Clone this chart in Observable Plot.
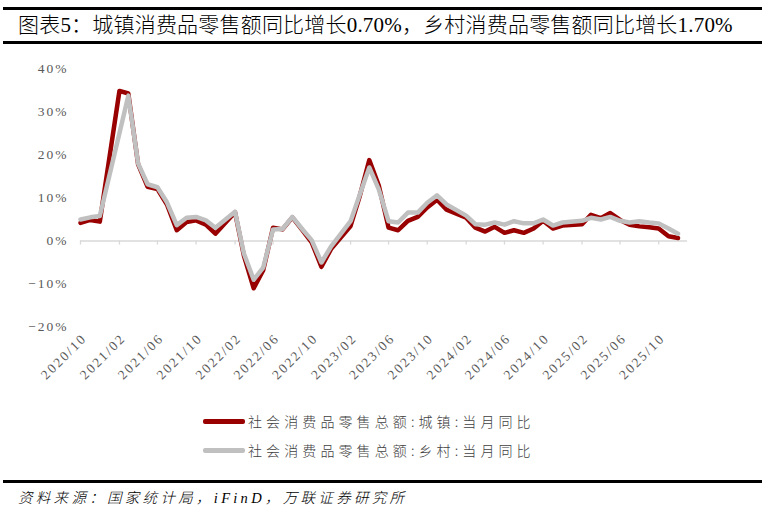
<!DOCTYPE html>
<html><head><meta charset="utf-8">
<script src="https://cdn.jsdelivr.net/npm/d3@7"></script>
<script src="https://cdn.jsdelivr.net/npm/@observablehq/plot@0.6"></script>
<style>
html,body{margin:0;padding:0;background:#fff;}
body{width:765px;height:512px;position:relative;overflow:hidden;font-family:"Liberation Serif","Noto Sans CJK SC",serif;}
#title{position:absolute;left:3px;top:7px;width:759px;height:31px;border-top:3px solid #000;border-bottom:3px solid #000;}
#title span{position:absolute;left:15px;top:2px;font-size:21px;line-height:27px;color:#000;white-space:nowrap;letter-spacing:0.2px;font-weight:300;}
#chart{position:absolute;left:0;top:48px;}
#chart svg text{letter-spacing:2px;}
#legend{position:absolute;left:203px;top:408px;}
.row{position:relative;height:29px;white-space:nowrap;}
.sw{position:absolute;left:0;top:11px;width:42px;height:4.5px;border-radius:2px;}
.lt{position:absolute;left:45px;top:1px;font-family:"Noto Sans CJK SC",sans-serif;font-weight:300;font-size:14px;line-height:24px;letter-spacing:4.1px;color:#404040;}
#rule{position:absolute;left:3px;top:480px;width:759px;height:3px;background:#000;}
#caption{position:absolute;left:18px;top:487px;font-family:"Liberation Serif","Noto Sans CJK SC",serif;font-weight:300;font-style:italic;font-size:14.5px;line-height:22px;letter-spacing:3.3px;color:#000;white-space:nowrap;}
</style></head>
<body>
<div id="title"><span>图表5：城镇消费品零售额同比增长0.70%，乡村消费品零售额同比增长1.70%</span></div>
<div id="chart"></div>
<div id="legend"></div>
<div id="rule"></div>
<div id="caption">资料来源：国家统计局，iFinD，万联证券研究所</div>
<script>
// ---- data ----
const months = [
  "2020-10","2020-11","2020-12",
  "2021-02","2021-03","2021-04","2021-05","2021-06","2021-07","2021-08","2021-09","2021-10","2021-11","2021-12",
  "2022-02","2022-03","2022-04","2022-05","2022-06","2022-07","2022-08","2022-09","2022-10","2022-11","2022-12",
  "2023-02","2023-03","2023-04","2023-05","2023-06","2023-07","2023-08","2023-09","2023-10","2023-11","2023-12",
  "2024-02","2024-03","2024-04","2024-05","2024-06","2024-07","2024-08","2024-09","2024-10","2024-11","2024-12",
  "2025-02","2025-03","2025-04","2025-05","2025-06","2025-07","2025-08","2025-09","2025-10","2025-11","2025-12"
];
const urban = [
  4.2, 4.9, 4.5,
  34.9, 34.3, 17.8, 12.6, 12.1, 8.5, 2.5, 4.4, 4.8, 3.8, 1.7,
  6.7, -3.4, -11.0, -6.8, 3.1, 2.7, 5.5, 2.6, -0.3, -6.0, -1.9,
  3.5, 10.2, 18.8, 12.9, 3.1, 2.5, 4.7, 5.6, 7.8, 9.6, 7.3,
  5.4, 3.1, 2.2, 3.3, 1.9, 2.5, 1.9, 2.9, 4.7, 2.9, 3.6,
  3.9, 6.1, 5.3, 6.5, 4.9, 3.8, 3.4, 3.2, 2.9, 1.1, 0.7
];
const rural = [
  5.0, 5.5, 5.8,
  null, 33.8, 18.0, 13.2, 12.5, 9.0, 3.7, 5.4, 5.6, 4.8, 3.1,
  6.8, -2.9, -9.0, -6.2, 2.7, 2.8, 5.6, 2.8, 0.2, -5.0, -1.3,
  4.6, 10.6, 17.1, 12.0, 4.6, 4.3, 6.6, 6.6, 8.9, 10.6, 8.5,
  5.9, 3.9, 3.8, 4.3, 3.8, 4.6, 4.1, 4.1, 5.0, 3.6, 4.3,
  4.7, 5.4, 5.0, 5.6, 4.7, 4.3, 4.6, 4.3, 4.1, 2.9, 1.7
];
const tickLabels = ["2020/10","2021/02","2021/06","2021/10","2022/02","2022/06","2022/10","2023/02","2023/06","2023/10","2024/02","2024/06","2024/10","2025/02","2025/06","2025/10"];
const yTicks = [-20, -10, 0, 10, 20, 30, 40];
const seriesNames = ["社会消费品零售总额:城镇:当月同比", "社会消费品零售总额:乡村:当月同比"];
const seriesColors = ["#990000", "#c0c0c0"];

// ---- build ----
const toDate = s => new Date(s.replace("/", "-") + "-01T00:00:00Z");
const tickDates = tickLabels.map(toDate);
const urbanRows = months.map((m, i) => ({date: toDate(m), value: urban[i]})).filter(d => d.value != null);
const ruralRows = months.map((m, i) => ({date: toDate(m), value: rural[i]})).filter(d => d.value != null);

const chart = Plot.plot({
  width: 765,
  height: 352,
  marginLeft: 80,
  marginRight: 78,
  marginTop: 20.5,
  marginBottom: 73.5,
  x: {type: "utc", domain: [toDate("2020-10"), new Date("2025-12-31T00:00:00Z")]},
  y: {domain: [-20, 40]},
  style: {fontFamily: '"Liberation Serif", serif', fontSize: "13.5px", color: "#595959", background: "#fff", overflow: "visible"},
  marks: [
    Plot.ruleY([0], {stroke: "#d9d9d9", strokeWidth: 1.3}),
    Plot.ruleX(tickDates, {y1: 0, y2: -0.95, stroke: "#d9d9d9", strokeWidth: 1.3}),
    Plot.axisY({ticks: yTicks, tickSize: 0, tickPadding: 12, label: null,
      tickFormat: d => (d < 0 ? "−" : "") + Math.abs(d) + "%"}),
    Plot.axisX({ticks: tickDates, tickSize: 0, tickPadding: 9, tickRotate: -45, label: null,
      tickFormat: d => d3.utcFormat("%Y/%m")(d), dx: 4}),
    Plot.line(urbanRows, {x: "date", y: "value", stroke: seriesColors[0], strokeWidth: 4.5}),
    Plot.line(ruralRows, {x: "date", y: "value", stroke: seriesColors[1], strokeWidth: 4.5})
  ]
});
document.getElementById("chart").appendChild(chart);

const legend = document.getElementById("legend");
seriesNames.forEach((name, i) => {
  const row = document.createElement("div");
  row.className = "row";
  const sw = document.createElement("div");
  sw.className = "sw";
  sw.style.background = seriesColors[i];
  const t = document.createElement("span");
  t.className = "lt";
  t.textContent = name;
  row.appendChild(sw);
  row.appendChild(t);
  legend.appendChild(row);
});
</script>
</body></html>
